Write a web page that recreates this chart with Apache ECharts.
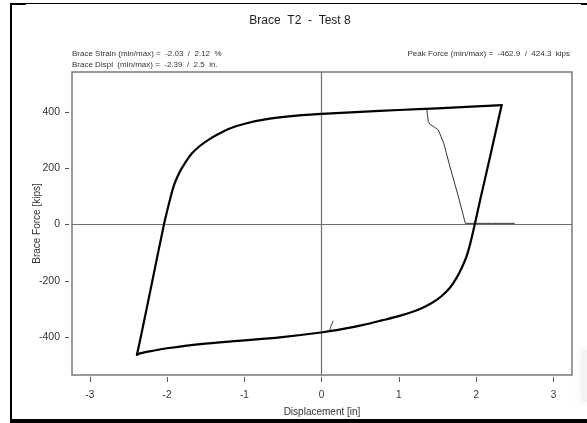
<!DOCTYPE html>
<html>
<head>
<meta charset="utf-8">
<script src="https://cdn.jsdelivr.net/npm/echarts@6/dist/echarts.min.js"></script>
<style>
  html, body { margin: 0; padding: 0; background: #fff; }
  #chart { width: 587px; height: 423px; }
</style>
</head>
<body>
<div id="chart"></div>
<script>
// Hysteresis loop of brace T2, test 8: displacement [in] vs brace force [kips]
// Unloading from peak tension down to peak compression
const downDisp = [
  2.33, 2.18, 2.05, 1.985, 1.935, 1.88, 1.82, 1.75, 1.66, 1.55, 1.42, 1.25, 1.02, 0.78, 0.54, 0.28, 0.015,
  -0.54, -1.0, -1.57, -2.0, -2.25, -2.35, -2.39
];
const downForce = [
  424.3, 241, 85, 4, -55, -110, -150, -188, -225, -255, -280, -303, -324, -341, -357, -371, -383,
  -401, -412, -425, -440, -452, -458, -462.9
];
// Reloading from peak compression back up to peak tension
const upDisp = [
  -2.39, -2.34, -2.19, -2.04, -1.97, -1.91, -1.84, -1.76, -1.68, -1.58, -1.47, -1.36, -1.18, -0.97, -0.67, -0.32,
  0, 0.5, 1.0, 1.5, 2.0, 2.33
];
const upForce = [
  -462.9, -400, -200, 0, 80, 140, 185, 222, 252, 278, 300, 318, 342, 360, 376, 387,
  393, 400, 407, 413, 420, 424.3
];
// final unloading branch and zero-force excursion
const endDisp  = [1.36, 1.37, 1.38, 1.40, 1.45, 1.51, 1.58, 1.66, 1.77, 1.86, 2.2, 2.5];
const endForce = [410, 390, 366, 356, 348, 336, 289, 206, 99, 4, 4, 4];
// initial loading segment
const startDisp  = [0.15, 0.12, 0.10];
const startForce = [-342, -362, -381];

const xTicks = [-3, -2, -1, 0, 1, 2, 3];
const yTicks = [-400, -200, 0, 200, 400];

const zip = (a, b) => a.map((v, i) => [v, b[i]]);
const FONT = "'Liberation Sans', Arial, sans-serif";

const chart = echarts.init(document.getElementById('chart'), null, { renderer: 'canvas' });

const loopLine = { color: '#000', width: 2.2, join: 'round', cap: 'round' };

chart.setOption({
  animation: false,
  backgroundColor: '#ffffff',
  grid: {
    left: 72, right: 15, top: 72, bottom: 48,
    show: true, borderColor: '#7a7a7a', borderWidth: 1.5, backgroundColor: 'transparent'
  },
  xAxis: {
    type: 'value', min: -3.23, max: 3.24, offset: 2,
    name: 'Displacement [in]', nameLocation: 'middle', nameGap: 30, nameMoveOverlap: false,
    nameTextStyle: { fontFamily: FONT, fontSize: 10, color: '#333' },
    axisLine: { show: false, onZero: false },
    axisTick: { show: true, length: 5, customValues: xTicks, lineStyle: { color: '#555', width: 1 } },
    axisLabel: { customValues: xTicks, margin: 13, fontFamily: FONT, fontSize: 10, color: '#333' },
    splitLine: { show: false }
  },
  yAxis: {
    type: 'value', min: -535, max: 542, offset: 3,
    name: 'Brace Force [kips]', nameLocation: 'middle', nameGap: 27, nameRotate: 90, nameMoveOverlap: false,
    nameTextStyle: { fontFamily: FONT, fontSize: 10, color: '#333' },
    axisLine: { show: false, onZero: false },
    axisTick: { show: true, length: 4, customValues: yTicks, lineStyle: { color: '#555', width: 1 } },
    axisLabel: { customValues: yTicks, margin: 9, fontFamily: FONT, fontSize: 10.5, color: '#333' },
    splitLine: { show: false }
  },
  series: [
    {
      type: 'line', data: zip(downDisp, downForce), showSymbol: false, smooth: 0.3,
      lineStyle: loopLine, z: 5,
      markLine: {
        silent: true, symbol: 'none', label: { show: false },
        lineStyle: { color: '#6e6e6e', width: 1.2, type: 'solid' },
        data: [{ xAxis: 0 }, { yAxis: 0 }], z: 1
      }
    },
    {
      type: 'line', data: zip(upDisp, upForce), showSymbol: false, smooth: 0.3,
      lineStyle: loopLine, z: 5
    },
    {
      type: 'line', data: zip(endDisp, endForce), showSymbol: false,
      lineStyle: { color: '#333', width: 1 }, z: 4
    },
    {
      type: 'line', data: zip(startDisp, startForce), showSymbol: false,
      lineStyle: { color: '#444', width: 1 }, z: 4
    }
  ],
  graphic: [
    // page frame
    { type: 'rect', shape: { x: 10, y: 3, width: 2, height: 420 }, style: { fill: '#000' } },
    { type: 'rect', shape: { x: 10, y: 3, width: 577, height: 1 }, style: { fill: '#000' } },
    { type: 'rect', shape: { x: 10, y: 3, width: 16, height: 2 }, style: { fill: '#000' } },
    { type: 'rect', shape: { x: 581, y: 3, width: 6, height: 2 }, style: { fill: '#000' } },
    { type: 'rect', shape: { x: 10, y: 419, width: 577, height: 4 }, style: { fill: '#000' } },
    { type: 'rect', shape: { x: 581, y: 350, width: 6, height: 52 },
      style: { fill: '#f3f3f3', shadowBlur: 10, shadowColor: '#f0f0f0' } },
    // headings
    { type: 'text', x: 300, y: 21,
      style: { text: 'Brace  T2  -  Test 8', font: '12px ' + FONT, fill: '#222', align: 'center', verticalAlign: 'middle' } },
    { type: 'text', x: 72, y: 53.5,
      style: { text: 'Brace Strain (min/max) =  -2.03  /  2.12  %', font: '8px ' + FONT, fill: '#333', align: 'left', verticalAlign: 'middle' } },
    { type: 'text', x: 72, y: 64.5,
      style: { text: 'Brace Displ  (min/max) =  -2.39  /  2.5  in.', font: '8px ' + FONT, fill: '#333', align: 'left', verticalAlign: 'middle' } },
    { type: 'text', x: 570, y: 53.5,
      style: { text: 'Peak Force (min/max) =  -462.9  /  424.3  kips', font: '8px ' + FONT, fill: '#333', align: 'right', verticalAlign: 'middle' } }
  ]
});
</script>
</body>
</html>
